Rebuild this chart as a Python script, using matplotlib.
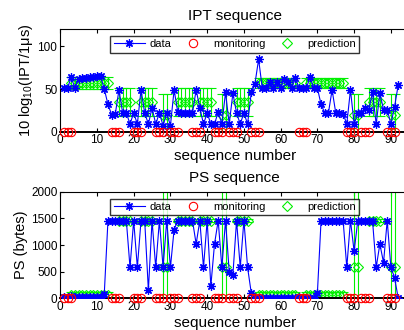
import numpy as np
import matplotlib
matplotlib.use("Agg")
import matplotlib.pyplot as plt

plt.rcParams['font.family'] = ['Liberation Sans', 'DejaVu Sans']
plt.rcParams['mathtext.fontset'] = 'custom'
plt.rcParams['mathtext.rm'] = 'Liberation Sans'
plt.rcParams['mathtext.it'] = 'Liberation Sans:italic'

# ---- data ----
seq = np.arange(1, 93)

ipt = [51, 51, 64, 51, 62, 63, 63, 64, 64, 65, 65, 50, 32, 20, 21, 49, 22, 22, 9, 22,
       9, 49, 22, 9, 28, 9, 22, 7, 22, 7, 49, 23, 22, 22, 22, 22, 49, 28, 9, 22,
       9, 9, 23, 9, 46, 9, 45, 22, 9, 22, 9, 46, 56, 85, 51, 51, 58, 51, 58, 51,
       62, 58, 51, 63, 51, 51, 51, 64, 51, 51, 32, 22, 22, 49, 22, 22, 21, 9, 49, 9,
       22, 22, 28, 26, 46, 9, 45, 26, 26, 9, 29, 55]

ps = [20, 20, 40, 30, 30, 30, 30, 30, 30, 30, 30, 90, 1460, 1460, 1460, 1460, 1460, 1460, 580, 1460,
      580, 1460, 1460, 150, 1460, 580, 1460, 580, 1460, 580, 1290, 1460, 1460, 1460, 1460, 1460, 1020, 1460, 580, 1460,
      230, 1020, 1460, 580, 1460, 500, 440, 1460, 580, 1460, 580, 100, 0, 0, 0, 0, 0, 0, 0, 0,
      0, 0, 0, 0, 30, 0, 0, 0, 0, 100, 1460, 1460, 1460, 1460, 1460, 1460, 1460, 580, 1460, 880,
      1460, 1460, 1460, 1460, 1460, 580, 1020, 670, 1460, 580, 390, 0]

monitor_idx = [1, 2, 3, 14, 15, 16, 20, 21, 22, 26, 27, 28, 30, 31, 32, 36, 37, 38,
               42, 43, 44, 46, 47, 48, 52, 53, 54, 65, 66, 67, 78, 79, 80, 82, 83, 84,
               89, 90, 91]

# prediction groups: (first index, last index, IPT mean, IPT half-range, PS mean, PS half-range)
pred_groups = [
    (3, 13, 57, 7, 60, 60),
    (16, 19, 35, 16.5, 1460, 20),
    (22, 25, 35, 16.5, 1460, 20),
    (28, 29, 20, 24, 580, 1600),
    (32, 36, 35, 16.5, 1460, 20),
    (38, 41, 35, 16.5, 1460, 20),
    (44, 45, 20, 24, 580, 1600),
    (48, 51, 35, 16.5, 1460, 20),
    (54, 64, 57, 6, 60, 60),
    (67, 77, 57, 6, 60, 60),
    (80, 81, 20, 24, 580, 1600),
    (84, 87, 35, 16.5, 1460, 20),
    (90, 91, 20, 24, 580, 1600),
]

pred_x, ipt_pred, ipt_err, ps_pred, ps_err = [], [], [], [], []
for a, b, im, ie, pm, pe in pred_groups:
    for k in range(a, b + 1):
        pred_x.append(k)
        ipt_pred.append(im)
        ipt_err.append(ie)
        ps_pred.append(pm)
        ps_err.append(pe)

GREEN = '#00f000'

fig = plt.figure(figsize=(4.04, 3.30), dpi=100)
ax1 = fig.add_axes([0.149, 0.601, 0.864, 0.310])
ax2 = fig.add_axes([0.149, 0.096, 0.864, 0.323])


def draw(ax, y, yp, ye, ylim, yticks, title, ylabel):
    ax.plot(seq, y, color='#0000ff', lw=0.8, marker=(8, 2, 0), ms=6,
            mew=0.9, label='data', zorder=3)
    ax.plot(monitor_idx, [0] * len(monitor_idx), ls='none', marker='o', ms=6,
            mfc='none', mec='#ff0000', mew=0.8, label='monitoring',
            clip_on=False, zorder=4)
    ax.errorbar(pred_x, yp, yerr=ye, fmt='D', ms=5.5, mfc='none', mec=GREEN,
                mew=0.8, ecolor=GREEN, elinewidth=0.8, capsize=3.5,
                capthick=0.8, zorder=2)
    ax.plot([], [], ls='none', marker='D', ms=5.5, mfc='none', mec=GREEN,
            mew=0.8, label='prediction')
    ax.set_xlim(0, 95)
    ax.set_ylim(*ylim)
    ax.set_xticks(range(0, 100, 10))
    ax.set_yticks(yticks)
    ax.tick_params(direction='in', length=3, labelsize=8.5, pad=2,
                   top=True, right=True)
    for s in ax.spines.values():
        s.set_linewidth(0.8)
    ax.spines['bottom'].set_linewidth(1.4)
    ax.set_title(title, fontsize=11, pad=7)
    ax.set_xlabel('sequence number', fontsize=11, labelpad=2)
    ax.set_ylabel(ylabel, fontsize=10.5, labelpad=2)
    leg = ax.legend(loc='upper center', bbox_to_anchor=(0.5, 0.935), ncol=3,
                    fontsize=8, frameon=True, fancybox=False, borderpad=0.3,
                    borderaxespad=0, handlelength=2.8, columnspacing=0.55,
                    handletextpad=0.4)
    leg.get_frame().set_edgecolor('black')
    leg.get_frame().set_linewidth(1.0)
    leg.set_zorder(10)


draw(ax1, ipt, ipt_pred, ipt_err, (0, 120), [0, 50, 100], 'IPT sequence',
     '10 log$_{10}$(IPT/1μs)')
draw(ax2, ps, ps_pred, ps_err, (0, 2000), [0, 500, 1000, 1500, 2000],
     'PS sequence', 'PS (bytes)')

fig.savefig('out.png', dpi=100)
